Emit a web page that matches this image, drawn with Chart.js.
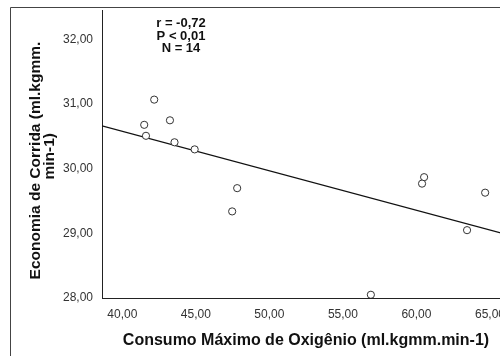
<!DOCTYPE html>
<html>
<head>
<meta charset="utf-8">
<script src="https://cdn.jsdelivr.net/npm/chart.js@4/dist/chart.umd.min.js"></script>
<style>
  html, body { margin: 0; padding: 0; background: #fff; }
  #wrap { width: 500px; height: 356px; overflow: hidden; position: relative; }
  #c { display: block; }
</style>
</head>
<body>
<div id="wrap"><canvas id="c" width="520" height="356"></canvas></div>
<script>
// ---- data ----
const vo2max = [41.49, 42.17, 43.24, 41.61, 43.55, 44.92, 47.81, 47.47, 60.52, 60.38, 64.67, 63.44, 56.90];
const runEconomy = [30.68, 31.07, 30.75, 30.51, 30.41, 30.30, 29.70, 29.34, 29.87, 29.77, 29.63, 29.05, 28.05];
const fitLineX = [38.62, 66.36];
const fitLineY = [30.665, 28.97];
const xTickValues = [40, 45, 50, 55, 60, 65];
const yTickValues = [28, 29, 30, 31, 32];
const statsLines = ['r = -0,72', 'P < 0,01', 'N = 14'];
const xTitle = 'Consumo Máximo de Oxigênio (ml.kgmm.min-1)';
const yTitle = ['Economia de Corrida (ml.kgmm.   ', 'min-1) '];

const FONT = '"Liberation Sans", Arial, sans-serif';
const fmt = v => Number(v).toFixed(2).replace('.', ',');

const framePlugin = {
  id: 'frame',
  afterDraw(chart) {
    const ctx = chart.ctx;
    ctx.save();
    ctx.strokeStyle = '#444';
    ctx.lineWidth = 1;
    ctx.beginPath();
    ctx.moveTo(10.5, 356);
    ctx.lineTo(10.5, 7.5);
    ctx.lineTo(520, 7.5);
    ctx.stroke();
    // stats annotation
    ctx.fillStyle = '#111';
    ctx.font = 'bold 13px ' + FONT;
    ctx.textAlign = 'center';
    ctx.textBaseline = 'middle';
    statsLines.forEach((t, i) => ctx.fillText(t, 181, 23.5 + i * 12.5));
    ctx.restore();
  }
};

new Chart(document.getElementById('c'), {
  type: 'scatter',
  data: {
    datasets: [
      {
        data: vo2max.map((x, i) => ({ x, y: runEconomy[i] })),
        pointRadius: 3.6,
        pointBorderWidth: 1,
        pointBorderColor: '#333',
        pointBackgroundColor: '#fff',
        showLine: false,
        order: 1
      },
      {
        data: fitLineX.map((x, i) => ({ x, y: fitLineY[i] })),
        showLine: true,
        borderColor: '#111',
        borderWidth: 1.3,
        pointRadius: 0,
        fill: false,
        order: 2
      }
    ]
  },
  options: {
    responsive: false,
    animation: false,
    layout: { padding: { left: 0, top: 7, right: 10, bottom: 0 } },
    plugins: { legend: { display: false }, tooltip: { enabled: false } },
    scales: {
      x: {
        type: 'linear',
        min: fitLineX[0],
        max: fitLineX[1],
        afterBuildTicks: s => { s.ticks = xTickValues.map(v => ({ value: v })); },
        afterFit: s => { s.height = 58; },
        grid: { display: false, drawOnChartArea: false, drawTicks: true, tickLength: 6, tickColor: '#333' },
        border: { display: true, color: '#222', width: 1 },
        ticks: {
          callback: fmt, color: '#333', padding: 3, maxRotation: 0, autoSkip: false,
          font: { family: FONT, size: 12 }
        },
        title: {
          display: true, text: xTitle, color: '#111',
          font: { family: FONT, size: 16, weight: 'bold', lineHeight: 1 },
          padding: { top: 0, bottom: 7 }
        }
      },
      y: {
        type: 'linear',
        min: 28,
        max: 32.454,
        afterBuildTicks: s => { s.ticks = yTickValues.map(v => ({ value: v })); },
        afterFit: s => { s.width = 102; },
        grid: { display: false, drawOnChartArea: false, drawTicks: true, tickLength: 6, tickColor: '#333' },
        border: { display: true, color: '#222', width: 1 },
        ticks: {
          callback: fmt, color: '#333', padding: 3, autoSkip: false,
          font: { family: FONT, size: 12 }
        },
        title: {
          display: true, text: yTitle, color: '#111',
          font: { family: FONT, size: 15.5, weight: 'bold', lineHeight: 0.9 },
          padding: { top: 29, bottom: 0 }
        }
      }
    }
  },
  plugins: [framePlugin]
});
</script>
</body>
</html>
